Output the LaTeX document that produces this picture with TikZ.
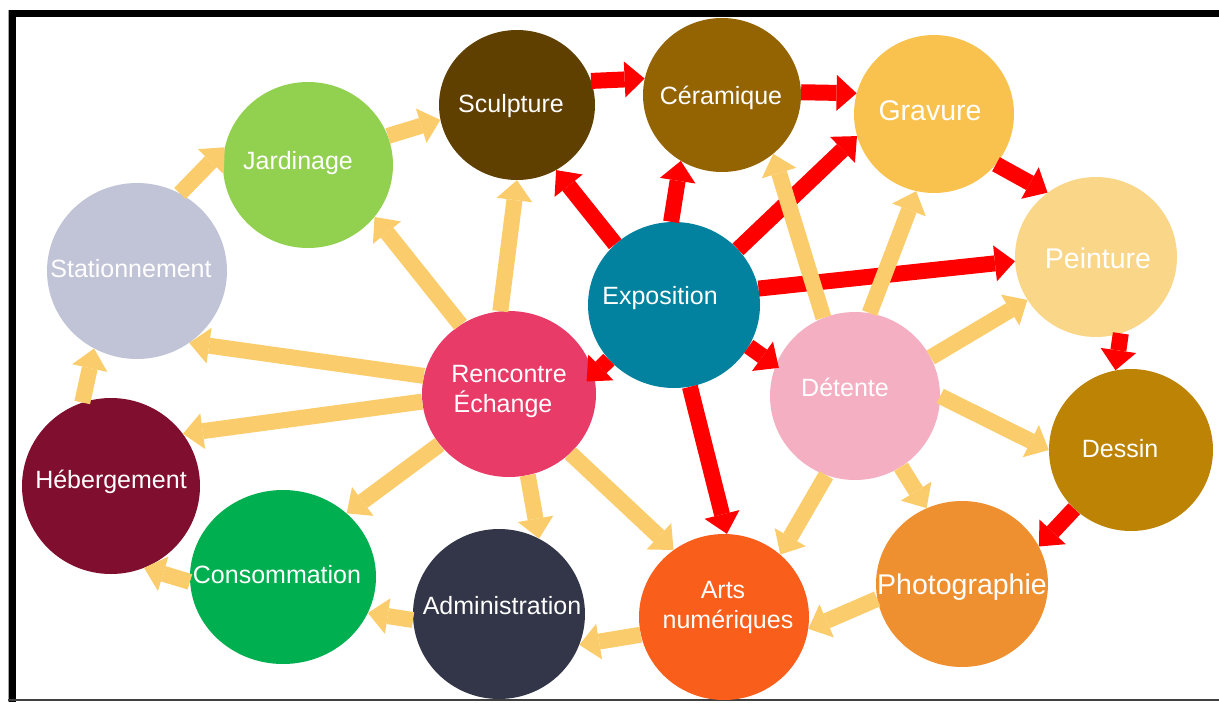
\documentclass[tikz,border=0pt]{standalone}
\usepackage{fontspec}
\setmainfont{Liberation Sans}
\usetikzlibrary{shapes.geometric,arrows.meta}
\definecolor{cScu}{HTML}{604000}
\definecolor{cCer}{HTML}{946403}
\definecolor{cGra}{HTML}{F9C24F}
\definecolor{cPei}{HTML}{FAD689}
\definecolor{cDes}{HTML}{BD8304}
\definecolor{cPho}{HTML}{EE9030}
\definecolor{cArt}{HTML}{F95E1A}
\definecolor{cAdm}{HTML}{323648}
\definecolor{cCon}{HTML}{00AF4F}
\definecolor{cHeb}{HTML}{800E2E}
\definecolor{cSta}{HTML}{C1C4D6}
\definecolor{cJar}{HTML}{92D050}
\definecolor{cExp}{HTML}{02829E}
\definecolor{cRen}{HTML}{E93B68}
\definecolor{cDet}{HTML}{F5AFC3}
\definecolor{arrY}{HTML}{FBCC6B}
\definecolor{arrR}{HTML}{FF0000}
\tikzset{
  bubble/.style={ellipse, draw=none, inner sep=0pt},
  lbl/.style={text=white, anchor=base, inner sep=0pt, font=\fontsize{25}{28}\selectfont},
  biglbl/.style={lbl, font=\fontsize{28.5}{32}\selectfont},
  redarrow/.style={draw=arrR, line width=16pt, -{Triangle[length=20pt,width=36pt,line width=0pt]}},
  yelarrow/.style={draw=arrY, line width=16pt, -{Triangle[length=20pt,width=36pt,line width=0pt]}},
}
\begin{document}
\begin{tikzpicture}[x=1pt,y=-1pt]
\useasboundingbox (0,0) rectangle (1219,702);
% frame
\fill[black] (8,10) rectangle (1219,17);
\fill[black] (9,10) rectangle (16,702);
\draw[gray!70, line width=1pt] (8.5,10) -- (8.5,702);
\draw[black!75, line width=1.5pt] (8,700) -- (1219,700);
% bubbles
\node[bubble, fill=cScu, minimum width=156pt, minimum height=150pt] (scu) at (517,105) {};
\node[bubble, fill=cCer, minimum width=158pt, minimum height=154pt] (cer) at (722,95) {};
\node[bubble, fill=cGra, minimum width=160pt, minimum height=158pt] (gra) at (934,114) {};
\node[bubble, fill=cPei, minimum width=162pt, minimum height=160pt] (pei) at (1096,257) {};
\node[bubble, fill=cDes, minimum width=164pt, minimum height=162pt] (des) at (1131,450) {};
\node[bubble, fill=cPho, minimum width=172pt, minimum height=166pt] (pho) at (962,584) {};
\node[bubble, fill=cArt, minimum width=170pt, minimum height=166pt] (art) at (724,617) {};
\node[bubble, fill=cAdm, minimum width=172pt, minimum height=170pt] (adm) at (499,614) {};
\node[bubble, fill=cCon, minimum width=186pt, minimum height=174pt] (con) at (283,577) {};
\node[bubble, fill=cHeb, minimum width=178pt, minimum height=176pt] (heb) at (111,486) {};
\node[bubble, fill=cSta, minimum width=180pt, minimum height=176pt] (sta) at (137,271) {};
\node[bubble, fill=cJar, minimum width=170pt, minimum height=166pt] (jar) at (308,165) {};
\node[bubble, fill=cExp, minimum width=172pt, minimum height=166pt] (exp) at (674,305) {};
\node[bubble, fill=cRen, minimum width=174pt, minimum height=166pt] (ren) at (509,394) {};
\node[bubble, fill=cDet, minimum width=170pt, minimum height=168pt] (det) at (855,396) {};
% red arrows
\draw[redarrow] (scu.18.9) -- (cer.168.5);
\draw[redarrow] (cer.2) -- (gra.165);
\draw[redarrow] (exp.134.5) -- (scu.-59.8);
\draw[redarrow] (exp.92.8) -- (cer.-122);
\draw[redarrow] (exp.41) -- (gra.-164);
\draw[redarrow] (exp.11.6) -- (pei.183);
\draw[redarrow, shorten >=-10pt] (exp.220.4) -- (ren.13.9);
\draw[redarrow, shorten >=-4pt] (exp.-29.9) -- (det.159);
\draw[redarrow] (exp.-79.4) -- (art.88);
\draw[redarrow] (gra.-39.9) -- (pei.127.9);
\draw[redarrow] (pei.-72) -- (des.101.7);
\draw[redarrow] (des.-134.5) -- (pho.26.6);
% yellow arrows
\draw[yelarrow] (jar.20.6) -- (scu.191.3);
\draw[yelarrow] (sta.61) -- (jar.168);
\draw[yelarrow] (heb.109.3) -- (sta.241.6);
\draw[yelarrow] (con.183.6) -- (heb.-68);
\draw[yelarrow] (adm.184.7) -- (con.-23.8);
\draw[yelarrow] (art.192.4) -- (adm.-21.7);
\draw[yelarrow] (pho.190.8) -- (art.-8.8);
\draw[yelarrow] (det.-110.2) -- (art.48.9);
\draw[yelarrow] (det.-57.2) -- (pho.115.8);
\draw[yelarrow] (det.-0.8) -- (des.180);
\draw[yelarrow] (det.27.5) -- (pei.212.4);
\draw[yelarrow] (det.80.3) -- (gra.257.1);
\draw[yelarrow] (det.112) -- (cer.-49.1);
\draw[yelarrow] (ren.96.3) -- (scu.-90);
\draw[yelarrow] (ren.125.5) -- (jar.-38);
\draw[yelarrow] (ren.168.6) -- (sta.-54);
\draw[yelarrow] (ren.185.6) -- (heb.36.6);
\draw[yelarrow] (ren.216.6) -- (con.45);
\draw[yelarrow] (ren.-77.6) -- (adm.62.8);
\draw[yelarrow] (ren.-44) -- (art.127.9);
% labels
\node[lbl] (tScu) at (511,112) {Sculpture};
\node[lbl] (tCer) at (721,104) {Céramique};
\node[biglbl] (tGra) at (930,120) {Gravure};
\node[biglbl] (tPei) at (1098,268) {Peinture};
\node[lbl] (tDes) at (1120,457) {Dessin};
\node[biglbl] (tPho) at (962,594) {Photographie};
\node[lbl] (tArt1) at (723,598) {Arts};
\node[lbl] (tArt2) at (728,628) {numériques};
\node[lbl] (tAdm) at (502,614) {Administration};
\node[lbl] (tCon) at (277,583) {Consommation};
\node[lbl] (tHeb) at (111,488) {Hébergement};
\node[lbl] (tSta) at (131,277) {Stationnement};
\node[lbl] (tJar) at (298,169) {Jardinage};
\node[lbl] (tExp) at (660,304) {Exposition};
\node[lbl] (tRen1) at (509,382) {Rencontre};
\node[lbl] (tRen2) at (503,412) {Échange};
\node[lbl] (tDet) at (845,396) {Détente};
\end{tikzpicture}
\end{document}
